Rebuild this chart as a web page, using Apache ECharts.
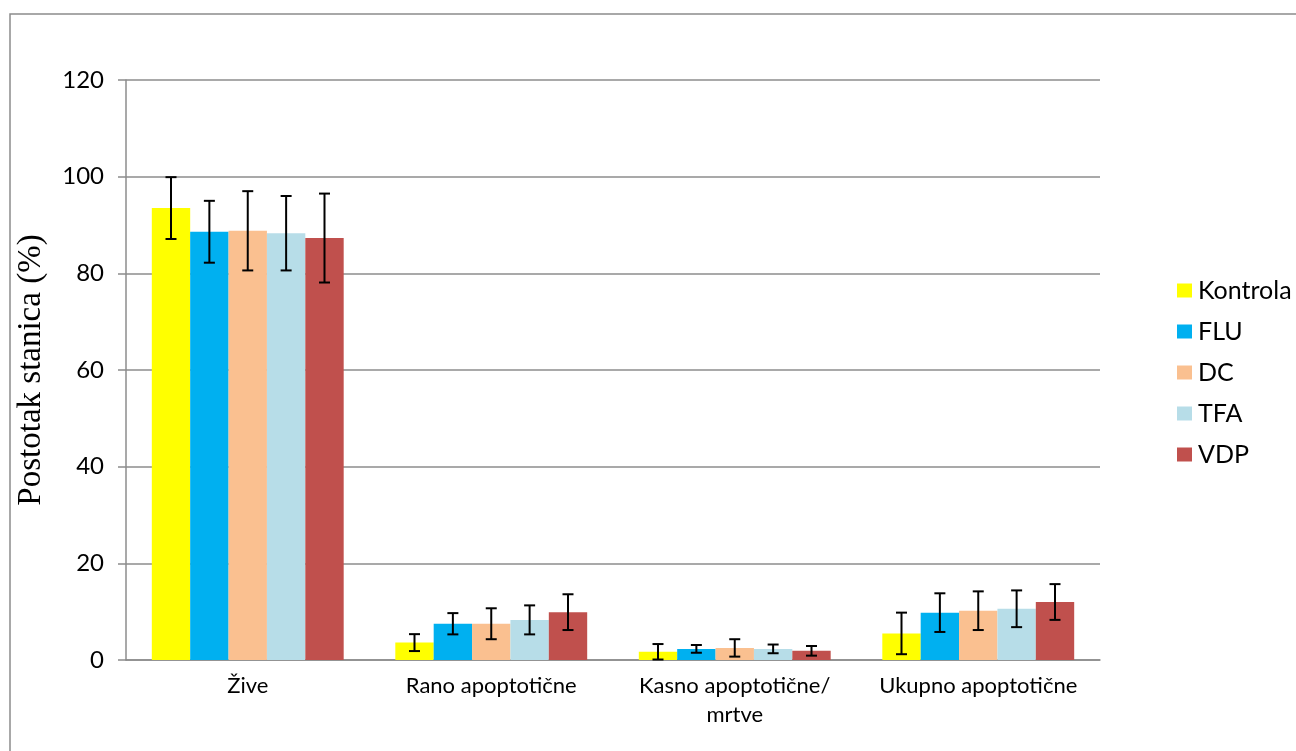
<!DOCTYPE html>
<html><head><meta charset="utf-8">
<script src="https://cdn.jsdelivr.net/npm/echarts@6/dist/echarts.min.js"></script>
<style>html,body{margin:0;padding:0;background:#fff}#c{width:1296px;height:751px}</style>
</head><body><div id="c"></div>
<script>
const categories = ['Žive', 'Rano apoptotične', 'Kasno apoptotične/\nmrtve', 'Ukupno apoptotične'];
const seriesNames = ['Kontrola', 'FLU', 'DC', 'TFA', 'VDP'];
const kontrola = [93.5, 3.6, 1.7, 5.5];
const flu = [88.6, 7.5, 2.3, 9.8];
const dc = [88.8, 7.5, 2.5, 10.2];
const tfa = [88.3, 8.3, 2.3, 10.6];
const vdp = [87.3, 9.9, 1.9, 12.0];
const kontrolaErr = [6.4, 1.75, 1.6, 4.3];
const fluErr = [6.4, 2.2, 0.8, 4.0];
const dcErr = [8.2, 3.2, 1.8, 4.0];
const tfaErr = [7.7, 3.0, 0.9, 3.8];
const vdpErr = [9.2, 3.7, 1.0, 3.7];
const yTicks = [0, 20, 40, 60, 80, 100, 120];

const values = [kontrola, flu, dc, tfa, vdp];
const errs = [kontrolaErr, fluErr, dcErr, tfaErr, vdpErr];
const colors = ['#ffff00', '#00b0f0', '#fac090', '#b7dde8', '#c0504d'];
const catGap = 0.212;

const chart = echarts.init(document.getElementById('c'));
const series = [];
seriesNames.forEach((n, i) => {
  series.push({
    name: n, type: 'bar', data: values[i], barGap: '0%', barCategoryGap: '21.2%',
    itemStyle: { color: colors[i] }, z: 2
  });
});
seriesNames.forEach((n, i) => {
  series.push({
    name: n + ' err', type: 'custom', z: 5,
    data: values[i].map((v, k) => [k, v, errs[i][k]]),
    renderItem: function (params, api) {
      const k = api.value(0), v = api.value(1), e = api.value(2);
      const band = api.size([1, 0])[0];
      const bw = band * (1 - catGap) / 5;
      const c0 = api.coord([k, v]);
      const x = c0[0] + (i - 2) * bw;
      const yt = api.coord([k, v + e])[1];
      const yb = api.coord([k, Math.max(0, v - e)])[1];
      const hw = 5.5;
      const st = { stroke: '#000', lineWidth: 2 };
      return { type: 'group', children: [
        { type: 'line', shape: { x1: x, y1: yt, x2: x, y2: yb }, style: st },
        { type: 'line', shape: { x1: x - hw, y1: yt, x2: x + hw, y2: yt }, style: st },
        { type: 'line', shape: { x1: x - hw, y1: yb, x2: x + hw, y2: yb }, style: st }
      ]};
    },
    silent: true
  });
});

chart.setOption({
  animation: false,
  textStyle: { fontFamily: 'Lato' },
  graphic: [{ type: 'rect', shape: { x: 10, y: 14, width: 1400, height: 900 },
    style: { fill: 'none', stroke: '#8c8c8c', lineWidth: 1.5 }, z: -1 }],
  legend: {
    orient: 'vertical', left: 1172, top: 273,
    itemWidth: 15, itemHeight: 14, itemGap: 16,
    icon: 'rect',
    data: seriesNames,
    textStyle: { fontSize: 25, color: '#000', fontFamily: 'Lato', padding: [0, 0, 0, 1] }
  },
  grid: { left: 126, top: 80, right: 196, bottom: 91, containLabel: false },
  xAxis: {
    type: 'category', data: categories,
    axisLine: { lineStyle: { color: '#8c8c8c', width: 1.5 } },
    axisTick: { show: false },
    axisLabel: { fontSize: 22, color: '#000', margin: 11, lineHeight: 29, fontFamily: 'Lato', interval: 0 }
  },
  yAxis: {
    type: 'value', min: 0, max: 120, interval: 20,
    name: 'Postotak stanica (%)', nameLocation: 'middle', nameGap: 78,
    nameTextStyle: { fontFamily: 'Liberation Serif', fontSize: 33, color: '#000' },
    axisLine: { show: true, lineStyle: { color: '#8c8c8c', width: 1.5 } },
    axisTick: { show: true, length: 8, lineStyle: { color: '#8c8c8c', width: 1.5 } },
    splitLine: { lineStyle: { color: '#8c8c8c', width: 1.5 } },
    axisLabel: { fontSize: 24, color: '#000', margin: 22, fontFamily: 'Lato',
      formatter: v => yTicks.includes(v) ? String(v) : '' }
  },
  series: series
});
</script></body></html>
